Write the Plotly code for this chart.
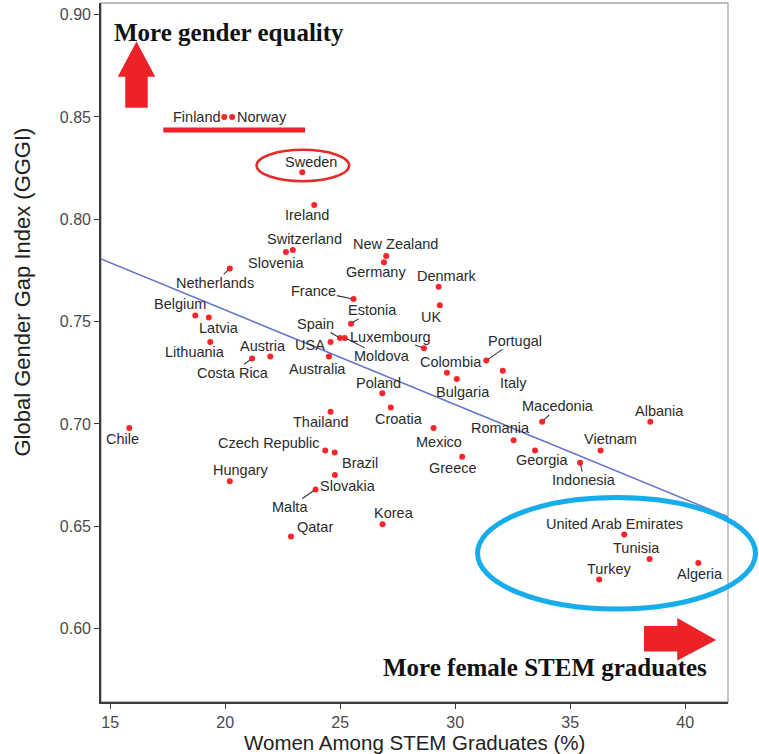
import plotly.graph_objects as go

# ---------------- data ----------------
countries = [
    "Finland", "Norway", "Sweden", "Ireland", "Switzerland", "Slovenia",
    "New Zealand", "Germany", "Netherlands", "France", "Estonia", "Belgium",
    "Latvia", "Lithuania", "Austria", "Costa Rica", "Spain", "Moldova", "USA",
    "Australia", "Luxembourg", "Denmark", "UK", "Portugal", "Colombia",
    "Bulgaria", "Italy", "Poland", "Croatia", "Thailand", "Macedonia",
    "Albania", "Mexico", "Romania", "Vietnam", "Georgia", "Greece",
    "Indonesia", "Chile", "Czech Republic", "Brazil", "Hungary", "Slovakia",
    "Malta", "Qatar", "Korea", "United Arab Emirates", "Tunisia", "Algeria",
    "Turkey",
]
stem_pct = [
    19.96, 20.30, 23.35, 23.87, 22.94, 22.64,
    27.00, 26.90, 20.20, 25.58, 25.47, 18.70,
    19.29, 19.35, 21.96, 21.17, 24.99, 25.20, 24.58,
    24.51, 28.64, 29.28, 29.33, 31.35, 29.64,
    30.07, 32.07, 26.83, 27.20, 24.58, 33.78,
    38.48, 29.06, 32.54, 36.32, 33.47, 30.30,
    35.43, 15.83, 24.35, 24.76, 20.20, 24.77,
    23.93, 22.86, 26.84, 37.35, 38.45, 40.57,
    36.26,
]
gggi = [
    0.850, 0.850, 0.823, 0.807, 0.785, 0.784,
    0.782, 0.779, 0.776, 0.761, 0.749, 0.753,
    0.752, 0.740, 0.733, 0.732, 0.742, 0.742, 0.740,
    0.733, 0.737, 0.767, 0.758, 0.731, 0.725,
    0.722, 0.726, 0.715, 0.708, 0.706, 0.701,
    0.701, 0.698, 0.692, 0.687, 0.687, 0.684,
    0.681, 0.698, 0.687, 0.686, 0.672, 0.675,
    0.668, 0.645, 0.651, 0.646, 0.634, 0.632,
    0.624,
]
trend_intercept = 0.8482
trend_slope = -0.004626

x_ticks = [15, 20, 25, 30, 35, 40]
y_ticks = [0.60, 0.65, 0.70, 0.75, 0.80, 0.85, 0.90]
x_title = "Women Among STEM Graduates (%)"
y_title = "Global Gender Gap Index (GGGI)"
note_top = "More gender equality"
note_bottom = "More female STEM graduates"

# ---------------- layout / positions ----------------
W, H = 759, 754
L, R, T, B = 101, 728, 3, 702          # plot area in pixels
X_RANGE = [14.6, 41.86]
Y_RANGE = [0.5641, 0.9057]

def px(xp):
    return (xp - L) / (R - L)

def py(yp):
    return (B - yp) / (B - T)

# label offsets in pixels (dx right, dy down), and whether a segment is drawn
label_pos = {
    "Finland": (-27, 0, False), "Norway": (29.4, 0, False),
    "Sweden": (8.5, -10.7, False), "Ireland": (-7.6, 10, False),
    "Switzerland": (11.7, -11.4, False), "Slovenia": (-9.2, 10.6, False),
    "New Zealand": (9.5, -11.7, False), "Germany": (-7.7, 10, False),
    "Netherlands": (-14.8, 14.3, True), "France": (-39.7, -8.3, True),
    "Estonia": (21, -13.3, True), "Belgium": (-15.5, -11.3, False),
    "Latvia": (10.2, 10.7, False), "Lithuania": (-15.1, 10, False),
    "Austria": (-7.6, -10.3, False), "Costa Rica": (-19.6, 14.3, True),
    "Spain": (-24.2, -14, True), "Moldova": (37.3, 18.4, True),
    "USA": (-20.4, 3.3, False), "Australia": (-11.8, 13, False),
    "Luxembourg": (-33.3, -11.6, True), "Denmark": (8, -11, False),
    "UK": (-9.3, 11.3, False), "Portugal": (28.5, -19.6, True),
    "Colombia": (3.8, -10.4, False), "Bulgaria": (5.7, 12.6, False),
    "Italy": (10.8, 12.7, False), "Poland": (-4.3, -10.7, False),
    "Croatia": (7.8, 11, False), "Thailand": (-9.2, 10.4, False),
    "Macedonia": (15.7, -15.4, True), "Albania": (9, -10.4, False),
    "Mexico": (5.1, 14.3, False), "Romania": (-13, -12, False),
    "Vietnam": (9.8, -11.3, False), "Georgia": (7.7, 9.7, False),
    "Greece": (-9.6, 11, False), "Indonesia": (4.2, 17.4, True),
    "Chile": (-7, 10.6, False), "Czech Republic": (-56.3, -7.7, False),
    "Brazil": (25.6, 10.3, False), "Hungary": (10.7, -11.4, False),
    "Slovakia": (13, 11, False), "Malta": (-25.7, 17.6, True),
    "Qatar": (24.3, -9.3, False), "Korea": (11.1, -11, False),
    "United Arab Emirates": (-9.3, -10.7, False), "Tunisia": (-13.5, -11.4, False),
    "Turkey": (10, -10, False), "Algeria": (1.2, 11, False),
}

SANS = "Liberation Sans, Arial, Helvetica, sans-serif"
SERIF = "Liberation Serif, Times New Roman, serif"
LABEL_COLOR = "#2b2b2b"
RED = "#ec2227"

fig = go.Figure()

# regression line across the full x range
fig.add_trace(go.Scatter(
    x=X_RANGE,
    y=[trend_intercept + trend_slope * v for v in X_RANGE],
    mode="lines",
    line=dict(color="#6676cc", width=1.5),
    hoverinfo="skip",
))

fig.add_trace(go.Scatter(
    x=stem_pct, y=gggi, mode="markers", text=countries,
    marker=dict(color="#f8262b", size=6, line=dict(width=0)),
    hovertemplate="%{text}: %{x}, %{y}<extra></extra>",
))

annotations = []
for name, xv, yv in zip(countries, stem_pct, gggi):
    dx, dy, seg = label_pos[name]
    if seg:
        annotations.append(dict(
            x=xv, y=yv, xref="x", yref="y", text=name,
            showarrow=True, ax=dx, ay=dy, axref="pixel", ayref="pixel",
            arrowhead=0, arrowwidth=1.1, arrowcolor="#333333",
            standoff=2, startstandoff=0,
            font=dict(family=SANS, size=14.5, color=LABEL_COLOR),
            borderpad=0,
        ))
    else:
        annotations.append(dict(
            x=xv, y=yv, xref="x", yref="y", text=name,
            showarrow=False, xshift=dx, yshift=-dy,
            xanchor="center", yanchor="middle",
            font=dict(family=SANS, size=14.5, color=LABEL_COLOR),
            borderpad=0,
        ))

# axis titles
annotations.append(dict(
    x=px(414.5), y=py(742), xref="paper", yref="paper", text=x_title,
    showarrow=False, xanchor="center", yanchor="middle",
    font=dict(family=SANS, size=20.5, color="#222222"), borderpad=0,
))
annotations.append(dict(
    x=px(22.5), y=py(292), xref="paper", yref="paper", text=y_title,
    showarrow=False, xanchor="center", yanchor="middle", textangle=-90,
    font=dict(family=SANS, size=22, color="#222222"),
))
# bold notes
annotations.append(dict(
    x=px(112), y=py(33), xref="paper", yref="paper",
    text="<b>" + note_top + "</b>",
    showarrow=False, xanchor="left", yanchor="middle",
    font=dict(family=SERIF, size=25, color="#111111"),
))
annotations.append(dict(
    x=px(709), y=py(667), xref="paper", yref="paper",
    text="<b>" + note_bottom + "</b>",
    showarrow=False, xanchor="right", yanchor="middle",
    font=dict(family=SERIF, size=25, color="#111111"),
))

def path_px(points):
    s = ""
    for i, (a, b) in enumerate(points):
        s += ("M" if i == 0 else "L") + f"{px(a):.5f},{py(b):.5f} "
    return s + "Z"

shapes = [
    # light frame on top/right
    dict(type="rect", xref="paper", yref="paper", x0=0, x1=1, y0=0, y1=1,
         line=dict(color="#a8a8a8", width=1.3), layer="below"),
    # up arrow
    dict(type="path", xref="paper", yref="paper",
         path=path_px([(136.5, 43), (154, 76), (147, 76), (147, 107),
                       (126, 107), (126, 76), (119, 76)]),
         fillcolor=RED, line=dict(color=RED, width=1.5), layer="above"),
    # right arrow
    dict(type="path", xref="paper", yref="paper",
         path=path_px([(644.7, 626.7), (678, 626.7), (678, 619.3), (714.6, 640),
                       (678, 659.3), (678, 650.7), (644.7, 650.7)]),
         fillcolor=RED, line=dict(color=RED, width=1.5), layer="above"),
    # underline Finland / Norway
    dict(type="line", xref="paper", yref="paper",
         x0=px(163.3), x1=px(305), y0=py(130), y1=py(130),
         line=dict(color=RED, width=5)),
    # Sweden ellipse
    dict(type="circle", xref="paper", yref="paper",
         x0=px(256.5), x1=px(349.2), y0=py(181.2), y1=py(149.8),
         line=dict(color="#e52a2a", width=2.6)),
    # blue ellipse
    dict(type="circle", xref="paper", yref="paper",
         x0=px(477.5), x1=px(755.5), y0=py(609), y1=py(497.5),
         line=dict(color="#17adea", width=5)),
]

axis_common = dict(
    showgrid=False, zeroline=False, showline=True,
    linecolor="#3a3a3a", linewidth=1.6,
    ticks="outside", ticklen=5, tickwidth=1.2, tickcolor="#3a3a3a",
    tickfont=dict(family=SANS, size=16, color="#4a4a4a"),
    mirror=False,
)

fig.update_layout(
    template="none",
    width=W, height=H,
    margin=dict(l=L, r=W - R, t=T, b=H - B, pad=0),
    paper_bgcolor="white", plot_bgcolor="white",
    showlegend=False,
    xaxis=dict(range=X_RANGE, tickvals=x_ticks, automargin=False, **axis_common),
    yaxis=dict(range=Y_RANGE, tickvals=y_ticks, tickformat=".2f",
               automargin=False, **axis_common),
    annotations=annotations,
    shapes=shapes,
)

# remove the default page margin so the figure sits at the window's corner
page_fix = (
    "document.body.style.margin='0';"
    "document.body.style.overflow='hidden';"
    "document.documentElement.style.overflow='hidden';"
)

fig.write_html("out.html", post_script=page_fix, config={"displayModeBar": False})
